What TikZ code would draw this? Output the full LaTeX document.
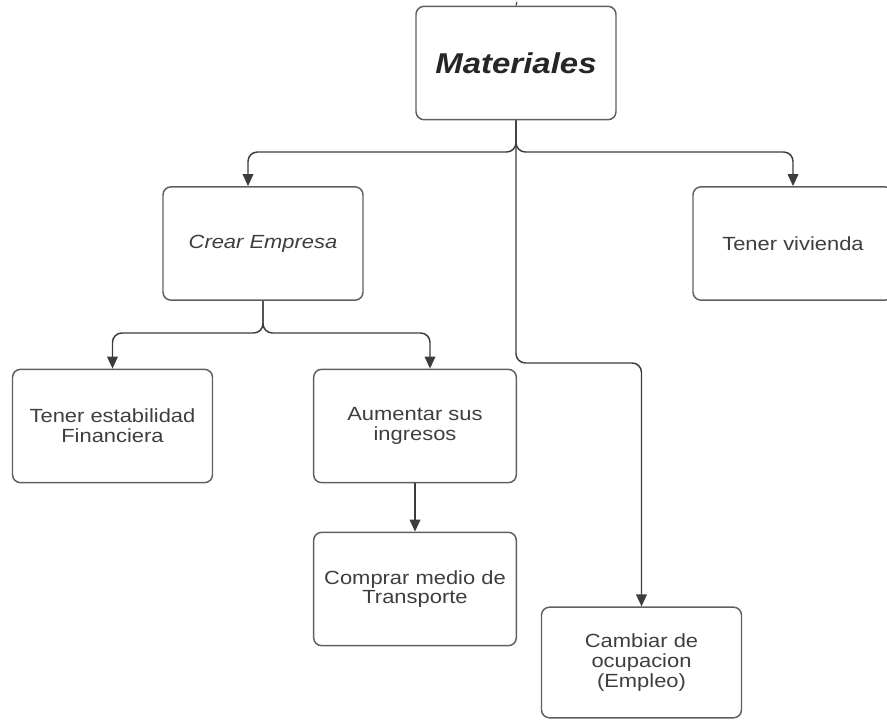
\documentclass[tikz,border=0pt]{standalone}
\usepackage{fontspec}
\setmainfont{Liberation Sans}[FakeStretch=1.15]
\usetikzlibrary{arrows.meta}

\definecolor{txtgray}{RGB}{62,62,62}
\definecolor{linegray}{RGB}{95,95,95}
\definecolor{arrgray}{RGB}{60,60,60}

\tikzset{
  box/.style={draw=linegray, line width=1.1pt, rounded corners=6pt, minimum width=150pt, minimum height=85pt, inner sep=0pt, align=center, text=txtgray, font=\fontsize{14.3}{14.8}\selectfont},
  conn/.style={draw=arrgray, line width=1.1pt, rounded corners=7pt},
  tip/.style={-{Triangle[length=9pt,width=8pt]}}
}

\begin{document}
\begin{tikzpicture}[x=0.75pt,y=0.75pt,yscale=-1,xscale=1]
\useasboundingbox (0,0) rectangle (887,720);

%Boxes
\node [box] (mat) at (516,63) {\fontsize{21.5}{24}\selectfont\bfseries\itshape\color{black!85}Materiales};
\node [box] (crear) at (263,243.5) {\itshape Crear Empresa};
\node [box] (vivienda) at (793,243.5) {Tener vivienda};
\node [box] (estab) at (112.5,426) {Tener estabilidad\\Financiera};
\node [box, minimum width=152pt] (aumentar) at (415,426) {Aumentar sus\\ingresos};
\node [box, minimum width=152pt] (comprar) at (415,589) {Comprar medio de\\Transporte};
\node [box, minimum height=83pt] (cambiar) at (641.5,662.5) {Cambiar de\\ocupacion\\(Empleo)};

%Junction points
\coordinate (top) at (517,2);
\coordinate (j1) at (516,152);
\coordinate (j3) at (516,363);
\coordinate (j2) at (263,333);
\coordinate (crearIn) at ([xshift=-11.25pt]crear.north);
\coordinate (aumIn) at ([xshift=11.25pt]aumentar.north);

%Connectors
\draw [conn, line width=0.8pt] (top) -- (mat.north);
\draw [conn, tip] (mat.south) -- (j1) -| (crearIn);
\draw [conn, tip] (mat.south) -- (j1) -| (vivienda.north);
\draw [conn, tip] (mat.south) -- (j3) -| (cambiar.north);
\draw [conn, tip] (crear.south) -- (j2) -| (estab.north);
\draw [conn, tip] (crear.south) -- (j2) -| (aumIn);
\draw [conn, tip] (aumentar.south) -- (comprar.north);

\end{tikzpicture}
\end{document}
